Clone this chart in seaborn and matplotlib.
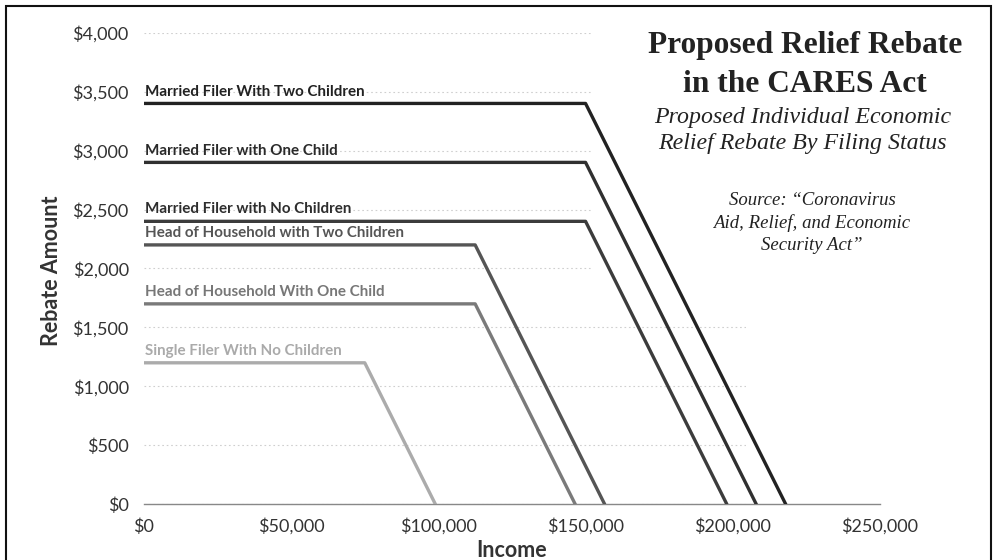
import matplotlib
matplotlib.use("Agg")
import matplotlib.pyplot as plt
import seaborn as sns
import pandas as pd
from matplotlib.patches import Rectangle, Polygon
from matplotlib.ticker import FuncFormatter

# ---- data ----
series = [
    "Married Filer With Two Children",
    "Married Filer with One Child",
    "Married Filer with No Children",
    "Head of Household with Two Children",
    "Head of Household With One Child",
    "Single Filer With No Children",
]
rebate = [3400, 2900, 2400, 2200, 1700, 1200]
phaseout_start = [150000, 150000, 150000, 112500, 112500, 75000]
phaseout_end = [218000, 208000, 198000, 156500, 146500, 99000]
line_colors = ["#222222", "#303030", "#3c3c3c", "#555555", "#7a7a7a", "#ababab"]
label_colors = ["#222222", "#2a2a2a", "#2e2e2e", "#555555", "#777777", "#aaaaaa"]
x_ticks = [0, 50000, 100000, 150000, 200000, 250000]
y_ticks = [0, 500, 1000, 1500, 2000, 2500, 3000, 3500, 4000]

rows = []
for name, amt, s, e in zip(series, rebate, phaseout_start, phaseout_end):
    rows += [
        {"series": name, "income": 0, "rebate": amt},
        {"series": name, "income": s, "rebate": amt},
        {"series": name, "income": e, "rebate": 0},
    ]
df = pd.DataFrame(rows)

sns.set_theme(style="white")
plt.rcParams["font.family"] = ["Lato", "DejaVu Sans"]

fig = plt.figure(figsize=(9.97, 5.6), dpi=100)
ax = fig.add_axes([0.1444, 0.0995, 0.7382, 0.8421])

sns.lineplot(data=df, x="income", y="rebate", hue="series", hue_order=series,
             palette=dict(zip(series, line_colors)), sort=False, estimator=None,
             units="series", linewidth=2.4, legend=False, ax=ax, zorder=3)

ax.set_xlim(0, 250000)
ax.set_ylim(0, 4000)
ax.set_xticks(x_ticks)
ax.set_yticks(y_ticks)
ax.xaxis.set_major_formatter(FuncFormatter(lambda v, p: f"${v:,.0f}"))
ax.yaxis.set_major_formatter(FuncFormatter(lambda v, p: f"${v:,.0f}"))

ax.set_axisbelow(True)
ax.grid(axis="y", color="#cfcfcf", linestyle=(0, (1.5, 2.5)), linewidth=0.8)
ax.grid(axis="x", visible=False)
for side in ["top", "right", "left"]:
    ax.spines[side].set_visible(False)
ax.spines["bottom"].set_color("#888888")
ax.spines["bottom"].set_linewidth(1.0)
ax.spines["bottom"].set_zorder(2)

ax.tick_params(axis="x", colors="#999999", length=4, width=0.8, direction="inout",
               labelcolor="#333333", labelsize=13, pad=8)
ax.tick_params(axis="y", length=0, labelcolor="#333333", labelsize=13, pad=11)

# white area behind the title block that hides the grid lines
cover = Polygon([(152000, 4100), (255000, 4100), (255000, -10), (204500, -10),
                 (204500, 1650), (152000, 1650)], closed=True,
                facecolor="white", edgecolor="none", zorder=1)
ax.add_patch(cover)

ax.set_xlabel("Income", fontsize=15.5, fontweight="bold", color="#333333")
ax.set_ylabel("Rebate Amount", fontsize=15.5, fontweight="bold", color="#333333")
ax.xaxis.set_label_coords(0.5, -0.097)
ax.xaxis.label.set_va("center")
ax.yaxis.set_label_coords(-0.126, 0.495)
ax.yaxis.label.set_va("center")

for name, amt, col in zip(series, rebate, label_colors):
    ax.annotate(name, xy=(0, amt), xytext=(1, 3.5), textcoords="offset points",
                ha="left", va="bottom", fontsize=10.9, fontweight="bold",
                color=col, zorder=4)

serif = ["Liberation Serif", "DejaVu Serif"]
tc = "#222222"
fig.text(805 / 997, 1 - 53 / 560, "Proposed Relief Rebate", ha="center", va="baseline",
         fontsize=22.6, fontweight="bold", family=serif, color=tc)
fig.text(805 / 997, 1 - 92 / 560, "in the CARES Act", ha="center", va="baseline",
         fontsize=22.6, fontweight="bold", family=serif, color=tc)
fig.text(802.5 / 997, 1 - 123 / 560, "Proposed Individual Economic", ha="center", va="baseline",
         fontsize=17.2, style="italic", family=serif, color=tc)
fig.text(802.5 / 997, 1 - 149 / 560, "Relief Rebate By Filing Status", ha="center", va="baseline",
         fontsize=17.2, style="italic", family=serif, color=tc)
for txt, base in [("Source: \u201cCoronavirus", 205),
                  ("Aid, Relief, and Economic", 228),
                  ("Security Act\u201d", 250)]:
    fig.text(812 / 997, 1 - base / 560, txt, ha="center", va="baseline",
             fontsize=13.5, style="italic", family=serif, color=tc)

fig.add_artist(Rectangle((6 / 997, -0.05), (991 - 6) / 997, (1 - 6 / 560) + 0.05,
                         transform=fig.transFigure, fill=False, edgecolor="#111111",
                         linewidth=1.5))

fig.savefig("out.png", dpi=100)
